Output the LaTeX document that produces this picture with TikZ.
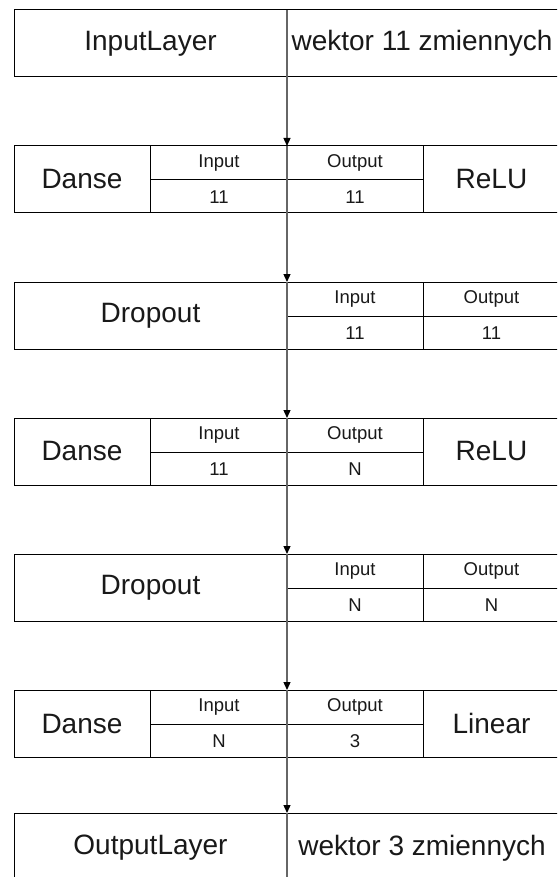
\documentclass[tikz,border=0pt]{standalone}
\usepackage{fontspec}
\setmainfont{Liberation Sans}
\usetikzlibrary{arrows.meta}

\begin{document}
\begin{tikzpicture}[x=1pt,y=-1pt,
  frame/.style={draw=black,line width=1pt,rectangle,anchor=north west,
    minimum width=546pt,minimum height=67pt,inner sep=0pt,outer sep=0pt},
  rule/.style={draw=black,line width=1pt},
  big/.style={font=\fontsize{28}{32}\selectfont,text=black!90,inner sep=0pt},
  small/.style={font=\fontsize{18.5}{22}\selectfont,text=black!90,inner sep=0pt},
  flowline/.style={draw=black!60,line width=1.3pt},
  flow/.style={flowline,-{Triangle[width=7pt,length=8pt,color=black]}}]

\useasboundingbox (0,0) rectangle (557,877);
\clip (0,0) rectangle (557,877);
\fill[white] (0,0) rectangle (557,877);

% column borders shared by all rows
\def\cA{14}\def\cB{150.5}\def\cC{287}\def\cD{423.5}\def\cE{560}
\coordinate (axis) at (\cC,0);

% ---- input layer ----
\node[frame] (b1) at (\cA,10) {};
\draw[rule] (\cC,10) -- (\cC,77);
\node[big] (b1name) at (150.5,43.5) {InputLayer};
\node[big] (b1info) at (422,43.5) {wektor 11 zmiennych};

% ---- dense layers: name | Input | Output | activation ----
\foreach \t/\id/\vin/\vout/\act in {146/b2/11/11/ReLU, 418/b4/11/N/ReLU, 690/b6/N/3/Linear}{
  \node[frame] (\id) at (\cA,\t) {};
  \draw[rule] (\cB,\t) -- (\cB,\t+67);
  \draw[rule] (\cC,\t) -- (\cC,\t+67);
  \draw[rule] (\cD,\t) -- (\cD,\t+67);
  \draw[rule] (\cB,\t+34) -- (\cD,\t+34);
  \node[big]   (\id name) at (82,\t+33.5) {Danse};
  \node[small] (\id hin)  at (219,\t+17) {Input};
  \node[small] (\id hout) at (355,\t+17) {Output};
  \node[small] (\id vin)  at (219,\t+51) {\vin};
  \node[small] (\id vout) at (355,\t+51) {\vout};
  \node[big]   (\id act)  at (491.5,\t+33.5) {\act};
}

% ---- dropout layers: name | Input | Output ----
\foreach \t/\id/\vin/\vout in {282/b3/11/11, 554/b5/N/N}{
  \node[frame] (\id) at (\cA,\t) {};
  \draw[rule] (\cC,\t) -- (\cC,\t+67);
  \draw[rule] (\cD,\t) -- (\cD,\t+67);
  \draw[rule] (\cC,\t+34) -- (\cE,\t+34);
  \node[big]   (\id name) at (150.5,\t+33.5) {Dropout};
  \node[small] (\id hin)  at (355,\t+17) {Input};
  \node[small] (\id hout) at (491.5,\t+17) {Output};
  \node[small] (\id vin)  at (355,\t+51) {\vin};
  \node[small] (\id vout) at (491.5,\t+51) {\vout};
}

% ---- output layer ----
\node[frame] (b7) at (\cA,813) {};
\draw[rule] (\cC,813) -- (\cC,880);
\node[big] (b7name) at (150.5,848) {OutputLayer};
\node[big] (b7info) at (422,848) {wektor 3 zmiennych};

% ---- data flow ----
\draw[flow] (b1.north -| axis) -- (b2.north -| axis);
\draw[flow] (b2.north -| axis) -- (b3.north -| axis);
\draw[flow] (b3.north -| axis) -- (b4.north -| axis);
\draw[flow] (b4.north -| axis) -- (b5.north -| axis);
\draw[flow] (b5.north -| axis) -- (b6.north -| axis);
\draw[flow] (b6.north -| axis) -- (b7.north -| axis);
\draw[flowline] (b7.north -| axis) -- (b7.south -| axis);
\end{tikzpicture}
\end{document}
